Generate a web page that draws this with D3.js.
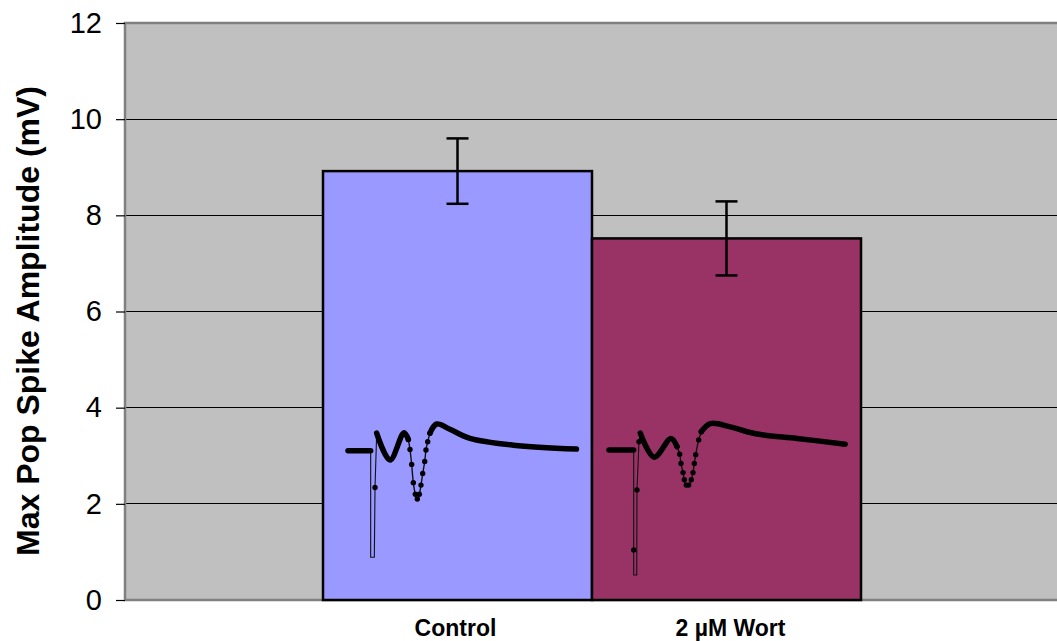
<!DOCTYPE html>
<html><head><meta charset="utf-8">
<script src="https://cdn.jsdelivr.net/npm/d3@7"></script>
<style>body{margin:0;background:#fff}svg{display:block}text{font-family:"Liberation Sans",Arial,sans-serif}</style>
</head><body><svg id="c" width="1057" height="641"></svg>
<script>
// ---- data ----
const categories = ["Control", "2 \u00B5M Wort"];
const means = [8.92, 7.52];
const errors = [0.68, 0.77];
const yTicks = [0, 2, 4, 6, 8, 10, 12];
const barColors = ["#9999FF", "#993366"];

// inset recordings: [time (a.u.), amplitude on chart scale]
const controlBaseline = [[0,3.105],[3.96,3.105]];
const controlArtifact = [[3.96,3.105],[3.96,0.89],[4.60,0.89],[4.72,2.34],[5.01,3.47]];
const controlArtifactDots = [[4.72,2.34]];
const controlHump = [[5.01,3.47],[7.34,2.91],[9.78,3.48],[10.54,3.34]];
const controlSpike = [[10.54,3.34],[10.83,3.13],[11.12,2.82],[11.41,2.44],[11.76,2.20],[12.11,2.10],[12.46,2.20],[12.75,2.39],[13.05,2.63],[13.40,2.88],[13.62,3.12],[13.92,3.29],[14.32,3.47]];
const controlDecay = [[14.32,3.47],[15.49,3.66],[17.8,3.55],[21.3,3.36],[28.9,3.22],[39.9,3.14]];

const wortBaseline = [[0,3.12],[4.15,3.12]];
const wortArtifact = [[4.15,3.12],[4.15,0.52],[4.66,0.52],[4.70,2.29],[5.04,3.29],[5.26,3.47]];
const wortArtifactDots = [[4.15,1.04],[4.70,2.29],[5.04,3.29]];
const wortHump = [[5.26,3.47],[7.61,2.97],[10.42,3.36],[11.43,3.19]];
const wortSpike = [[11.43,3.19],[11.88,3.03],[12.10,2.84],[12.44,2.65],[12.66,2.50],[12.99,2.39],[13.39,2.39],[13.83,2.50],[14.12,2.65],[14.34,2.84],[14.57,3.02],[15.07,3.33],[15.51,3.50]];
const wortDecay = [[15.51,3.50],[17.03,3.67],[20.4,3.60],[23.2,3.50],[26.0,3.43],[31.6,3.36],[39.7,3.24]];

const traces = [
  {base: controlBaseline, art: controlArtifact, artDots: controlArtifactDots, hump: controlHump, spike: controlSpike, decay: controlDecay},
  {base: wortBaseline, art: wortArtifact, artDots: wortArtifactDots, hump: wortHump, spike: wortSpike, decay: wortDecay}
];

// ---- layout ----
const plot = {left: 125, top: 23, right: 1060, bottom: 600};
const traceInset = [[25, 254], [17, 255]];   // px offsets of each inset inside its bar
const labelShift = [-2, 4];

const svg = d3.select("#c");
const y = d3.scaleLinear().domain([0, 12]).range([plot.bottom, plot.top]);
const x = d3.scaleBand().domain(categories).range([323, 861]).padding(0);

// plot area
svg.append("rect").attr("x", plot.left).attr("y", plot.top)
  .attr("width", plot.right - plot.left).attr("height", plot.bottom - plot.top)
  .attr("fill", "#C0C0C0");

// gridlines
svg.append("g").selectAll("line").data(yTicks.filter(d => d > 0 && d < 12)).join("line")
  .attr("x1", plot.left).attr("x2", plot.right)
  .attr("y1", d => y(d)).attr("y2", d => y(d))
  .attr("stroke", "#000").attr("stroke-width", 1).attr("shape-rendering", "crispEdges");

// plot border (grey)
svg.append("path")
  .attr("d", `M${plot.right},${plot.top}H${plot.left}V${plot.bottom}H${plot.right}`)
  .attr("fill", "none").attr("stroke", "#808080").attr("stroke-width", 2.5);

// y axis
const yAxis = d3.axisLeft(y).tickValues(yTicks).tickSize(9).tickPadding(14).tickFormat(d3.format("d"));
const ya = svg.append("g").attr("transform", `translate(${plot.left},0)`).call(yAxis);
ya.select(".domain").remove();
ya.selectAll(".tick line").attr("stroke", "#000").attr("stroke-width", 1.2);
ya.selectAll(".tick text").attr("font-size", 29).attr("fill", "#000")
  .attr("font-family", "'Liberation Sans', Arial, sans-serif");

// y label
svg.append("text")
  .attr("transform", `translate(38.5,${(83+559)/2}) rotate(-90)`)
  .attr("text-anchor", "middle")
  .attr("font-size", 32).attr("font-weight", "bold").attr("fill", "#000")
  .text("Max Pop Spike Amplitude (mV)");

// bars
svg.append("g").selectAll("rect").data(categories).join("rect")
  .attr("x", d => x(d)).attr("width", x.bandwidth())
  .attr("y", (d, i) => y(means[i])).attr("height", (d, i) => y(0) - y(means[i]))
  .attr("fill", (d, i) => barColors[i]).attr("stroke", "#000").attr("stroke-width", 2.5);

// inset traces
traces.forEach((tr, i) => {
  const x0 = x(categories[i]);
  const tx = d3.scaleLinear().domain([0, 40]).range([x0 + traceInset[i][0], x0 + traceInset[i][1]]);
  const g = svg.append("g");
  const lin = d3.line().x(d => tx(d[0])).y(d => y(d[1]));
  const smooth = d3.line().x(d => tx(d[0])).y(d => y(d[1])).curve(d3.curveCatmullRom.alpha(0.5));
  g.append("path").attr("d", lin(tr.art)).attr("fill", "none").attr("stroke", "#111").attr("stroke-width", 1.1);
  g.append("path").attr("d", smooth(tr.spike)).attr("fill", "none").attr("stroke", "#111").attr("stroke-width", 1.4);
  [tr.base, tr.hump, tr.decay].forEach(seg => {
    g.append("path").attr("d", smooth(seg)).attr("fill", "none").attr("stroke", "#000")
      .attr("stroke-width", 5.5).attr("stroke-linecap", "round").attr("stroke-linejoin", "round");
  });
  g.selectAll("circle.s").data(tr.spike.concat(tr.artDots)).join("circle")
    .attr("cx", d => tx(d[0])).attr("cy", d => y(d[1])).attr("r", 2.7).attr("fill", "#000");
});

// error bars
const eb = svg.append("g").attr("stroke", "#000").attr("stroke-width", 2.5);
categories.forEach((c, i) => {
  const cx = x(c) + x.bandwidth() / 2;
  eb.append("line").attr("x1", cx).attr("x2", cx).attr("y1", y(means[i] + errors[i])).attr("y2", y(means[i] - errors[i]));
  [means[i] + errors[i], means[i] - errors[i]].forEach(v => {
    eb.append("line").attr("x1", cx - 11).attr("x2", cx + 11).attr("y1", y(v)).attr("y2", y(v));
  });
});

// x labels
svg.append("g").selectAll("text").data(categories).join("text")
  .attr("x", (d, i) => x(d) + x.bandwidth() / 2 + labelShift[i]).attr("y", 636)
  .attr("text-anchor", "middle").attr("font-size", 23).attr("font-weight", "bold").attr("fill", "#000")
  .text(d => d);
</script>
</body></html>
